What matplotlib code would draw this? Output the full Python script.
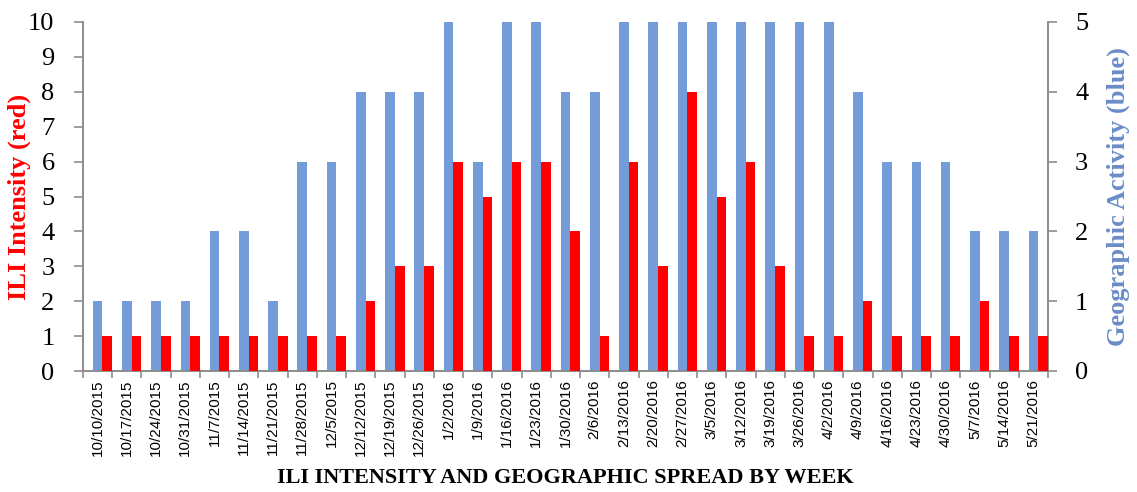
import matplotlib
matplotlib.use("Agg")
import matplotlib.pyplot as plt
import numpy as np

weeks = ["10/10/2015", "10/17/2015", "10/24/2015", "10/31/2015", "11/7/2015", "11/14/2015",
         "11/21/2015", "11/28/2015", "12/5/2015", "12/12/2015", "12/19/2015", "12/26/2015",
         "1/2/2016", "1/9/2016", "1/16/2016", "1/23/2016", "1/30/2016", "2/6/2016",
         "2/13/2016", "2/20/2016", "2/27/2016", "3/5/2016", "3/12/2016", "3/19/2016",
         "3/26/2016", "4/2/2016", "4/9/2016", "4/16/2016", "4/23/2016", "4/30/2016",
         "5/7/2016", "5/14/2016", "5/21/2016"]
geo_activity = [1, 1, 1, 1, 2, 2, 1, 3, 3, 4, 4, 4, 5, 3, 5, 5, 4, 4, 5, 5, 5, 5, 5, 5,
                5, 5, 4, 3, 3, 3, 2, 2, 2]
ili_intensity = [1, 1, 1, 1, 1, 1, 1, 1, 1, 2, 3, 3, 6, 5, 6, 6, 4, 1, 6, 3, 8, 5, 6, 3,
                 1, 1, 2, 1, 1, 1, 2, 1, 1]

BLUE = "#739cd9"
RED = "#ff0000"
GRAY = "#8c8c8c"
serif = ["Liberation Serif", "DejaVu Serif"]

fig = plt.figure(figsize=(11.37, 4.92), dpi=100)
ax = fig.add_axes([83 / 1137, 1 - 371 / 492, (1048 - 83) / 1137, (371 - 22) / 492])
ax2 = ax.twinx()

x = np.arange(len(weeks))
w = 0.33
ax2.bar(x - 0.165, geo_activity, width=w, color=BLUE, align="edge", zorder=2)
ax.bar(x + 0.165, ili_intensity, width=w, color=RED, align="edge", zorder=3)
ax.set_zorder(ax2.get_zorder() + 1)
ax.patch.set_visible(False)

n = len(weeks)
ax.set_xlim(-0.5, n - 0.5)
ax.set_ylim(0, 10)
ax2.set_ylim(0, 5)
ax.set_yticks(range(0, 11))
ax2.set_yticks(range(0, 6))

ax.set_xticks(x)
ax.set_xticklabels(weeks, rotation=90, fontsize=11, family=["Liberation Sans", "DejaVu Sans"])
ax.set_xticks(np.arange(-0.5, n, 1.0), minor=True)
ax.tick_params(axis="x", which="major", length=0, pad=6)
ax.tick_params(axis="x", which="minor", length=5, color=GRAY, width=1.2)

for a in (ax, ax2):
    for s in a.spines.values():
        s.set_color(GRAY)
        s.set_linewidth(1.2)
    a.spines["top"].set_visible(False)

ax.tick_params(axis="y", length=6.5, color=GRAY, width=1.2, labelsize=19, pad=14)
ax2.tick_params(axis="y", length=6.5, color=GRAY, width=1.2, labelsize=19, pad=13)
for lab in ax.get_yticklabels() + ax2.get_yticklabels():
    lab.set_family(serif)

ax.set_ylabel("ILI Intensity (red)", color=RED, fontsize=19, fontweight="bold",
              family=serif)
ax.yaxis.set_label_coords(-0.054, 0.5)
ax2.set_ylabel("Geographic Activity (blue)", color="#6a8cc8", fontsize=19,
               fontweight="bold", family=serif)
ax2.yaxis.set_label_coords(1.061, 0.5)
ax.set_xlabel("ILI INTENSITY AND GEOGRAPHIC SPREAD BY WEEK", fontsize=16,
              fontweight="bold", family=serif, labelpad=9)

fig.savefig("out.png", dpi=100)
